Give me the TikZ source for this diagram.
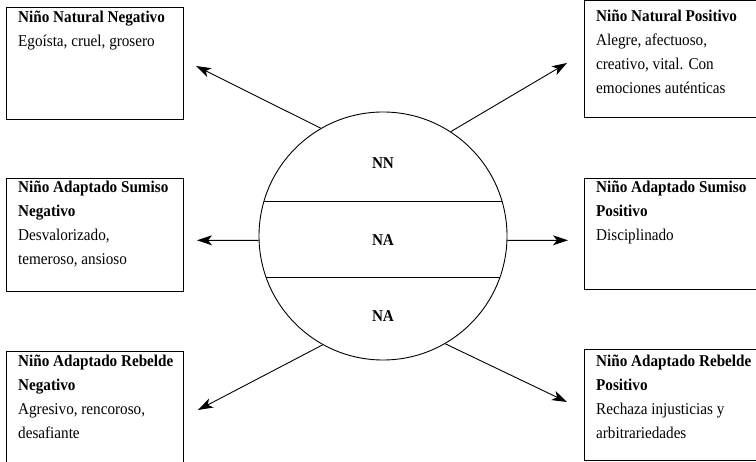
\documentclass[tikz,border=0pt]{standalone}
\usepackage{fontspec}
\setmainfont{Liberation Serif}[FakeStretch=0.92]
\usetikzlibrary{arrows.meta,calc}
\begin{document}
\begin{tikzpicture}[x=1pt,y=-1pt,
  boxstyle/.style={draw,line width=0.9pt,minimum width=177pt,minimum height=112pt,anchor=north west,inner sep=0pt},
  txt/.style={anchor=north west,align=left,inner sep=0pt,font=\fontsize{16.5}{24}\selectfont},
  lbl/.style={font=\fontsize{16.5}{18}\selectfont\bfseries,inner sep=0pt},
  arr/.style={line width=0.9pt,-{Stealth[length=15pt,width=10pt,inset=4pt]}}]
\useasboundingbox (0,0) rectangle (756,462);
\clip (0,0) rectangle (756,462);
% boxes
\node[boxstyle,minimum height=112pt] (b1) at (6,7) {};
\node[boxstyle,minimum width=172pt,minimum height=117pt] (b2) at (584,0.5) {};
\node[boxstyle,minimum height=113pt] (b3) at (6,178) {};
\node[boxstyle,minimum width=172pt,minimum height=111pt] (b4) at (584,178) {};
\node[boxstyle,minimum height=115pt] (b5) at (6,351) {};
\node[boxstyle,minimum width=172pt,minimum height=111pt] (b6) at (584,349) {};
% texts
\node[txt] (t1) at (18,11) {\textbf{Niño Natural Negativo}\\Egoísta, cruel, grosero};
\node[txt] (t2) at (596,10) {\textbf{Niño Natural Positivo}\\Alegre, afectuoso,\\creativo, vital. Con\\emociones auténticas};
\node[txt] (t3) at (18,181) {\textbf{Niño Adaptado Sumiso}\\\textbf{Negativo}\\Desvalorizado,\\temeroso, ansioso};
\node[txt] (t4) at (596,181) {\textbf{Niño Adaptado Sumiso}\\\textbf{Positivo}\\Disciplinado};
\node[txt] (t5) at (18,355) {\textbf{Niño Adaptado Rebelde}\\\textbf{Negativo}\\Agresivo, rencoroso,\\desafiante};
\node[txt] (t6) at (596,355) {\textbf{Niño Adaptado Rebelde}\\\textbf{Positivo}\\Rechaza injusticias y\\arbitrariedades};
% circle
\node[circle,draw,line width=0.9pt,minimum size=248pt,inner sep=0pt] (c) at (383,236) {};
\draw[line width=0.9pt] ($(c.center)+(-119,-35)$) -- ($(c.center)+(119,-35)$);
\draw[line width=0.9pt] ($(c.center)+(-117,41)$) -- ($(c.center)+(117,41)$);
\node[lbl] (nn) at (383,163) {NN};
\node[lbl] (na1) at (383,240) {NA};
\node[lbl] (na2) at (383,316) {NA};
% arrow tips
\coordinate (p1) at (196,66);
\coordinate (p2) at (567,63);
\coordinate (p3) at (197,240.3);
\coordinate (p4) at (568,240.3);
\coordinate (p5) at (198,410);
\coordinate (p6) at (567,402);
\draw[arr] (c.120) -- (p1);
\draw[arr] (c.57) -- (p2);
\draw[arr] (c.182) -- (p3);
\draw[arr] (c.-2) -- (p4);
\draw[arr] (c.-119) -- (p5);
\draw[arr] (c.-60) -- (p6);
\end{tikzpicture}
\end{document}
